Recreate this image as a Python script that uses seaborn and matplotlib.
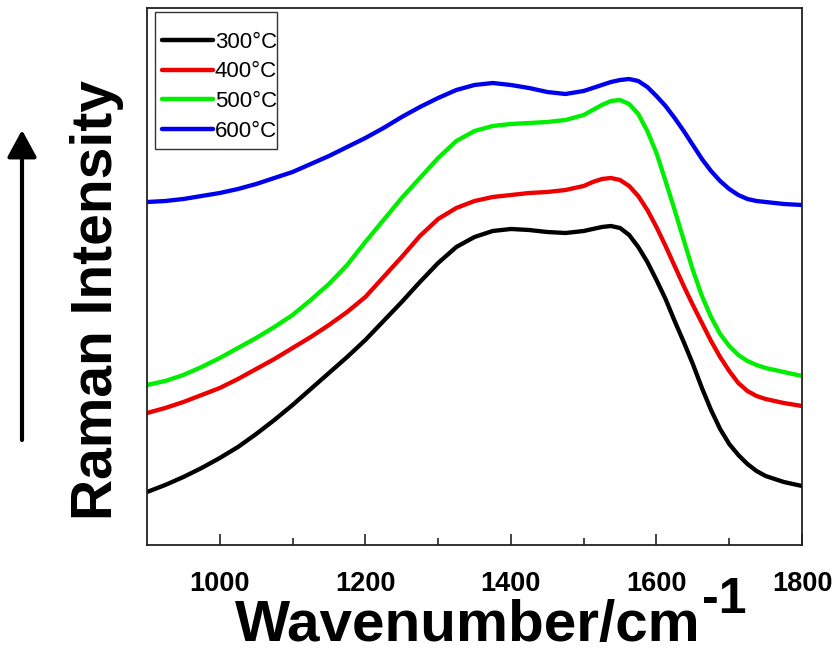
import numpy as np
import pandas as pd
import matplotlib
matplotlib.use("Agg")
import matplotlib.pyplot as plt
import matplotlib.patches as mpatches
from matplotlib.lines import Line2D
import seaborn as sns

# Wavenumber (cm^-1) and Raman intensities (arbitrary units)
wavenumber = [900, 925, 950, 975, 1000, 1025, 1050, 1075, 1100, 1125, 1150, 1175,
              1200, 1225, 1250, 1275, 1300, 1325, 1350, 1375, 1400, 1425, 1450, 1475,
              1500, 1512.5, 1525, 1537.5, 1550, 1562.5, 1575, 1587.5, 1600, 1612.5,
              1625, 1637.5, 1650, 1662.5, 1675, 1687.5, 1700, 1712.5, 1725, 1737.5,
              1750, 1775, 1800]

# values measured downward from the top of the frame, converted below
depth_300 = [492, 485, 477, 468, 458, 447, 434, 420, 405, 389, 373, 357,
             340, 321, 302, 282, 263, 247, 237, 231, 229, 230, 232, 233,
             231, 229, 227, 226, 228, 235, 247, 262, 280, 299,
             321, 342, 364, 388, 410, 429, 444, 455, 464, 471,
             476, 482, 486]
depth_400 = [413, 408, 402, 395, 388, 379, 369, 359, 348, 337, 325, 312,
             297, 277, 257, 236, 219, 208, 201, 197, 195, 193, 192, 190,
             186, 182, 179, 178, 180, 186, 196, 210, 227, 246,
             266, 286, 305, 323, 341, 357, 371, 383, 391, 396,
             399, 403, 406]
depth_500 = [385, 381, 375, 367, 358, 348, 338, 327, 315, 300, 284, 265,
             242, 220, 198, 178, 158, 141, 131, 126, 124, 123, 122, 120,
             115, 110, 105, 101, 100, 104, 114, 131, 153, 181,
             210, 240, 270, 296, 317, 334, 346, 355, 361, 365,
             368, 372, 376]
depth_600 = [202, 201, 199, 196, 193, 189, 184, 178, 172, 164, 156, 147,
             138, 128, 117, 107, 98, 90, 85, 83, 85, 88, 92, 94,
             91, 88, 85, 82, 80, 79, 81, 87, 96, 106,
             118, 131, 145, 159, 171, 181, 189, 195, 199, 201,
             202, 204, 205]

base = 545
int_300 = [base - v for v in depth_300]
int_400 = [base - v for v in depth_400]
int_500 = [base - v for v in depth_500]
int_600 = [base - v for v in depth_600]

labels = ["300°C", "400°C", "500°C", "600°C"]
colors = ["#000000", "#ee0000", "#00ee00", "#0000ee"]
xticks = [1000, 1200, 1400, 1600, 1800]
minor_xticks = [1100, 1300, 1500, 1700]

frames = []
for lab, vals in zip(labels, [int_300, int_400, int_500, int_600]):
    frames.append(pd.DataFrame({"Wavenumber": wavenumber, "Intensity": vals, "Temp": lab}))
df = pd.concat(frames, ignore_index=True)

sns.set_style("ticks")
plt.rcParams["font.family"] = ["Liberation Sans", "DejaVu Sans"]
plt.rcParams["text.color"] = "black"
plt.rcParams["xtick.color"] = "black"
plt.rcParams["xtick.labelcolor"] = "black"

W, H = 840, 659
fig = plt.figure(figsize=(W / 100, H / 100), dpi=100)
ax = fig.add_axes([147 / W, 1 - 545 / H, (802 - 147) / W, (545 - 8) / H])

sns.lineplot(data=df, x="Wavenumber", y="Intensity", hue="Temp",
             palette=dict(zip(labels, colors)), linewidth=3.1, ax=ax, legend=False,
             sort=False)
for ln in ax.get_lines():
    ln.set_solid_joinstyle("round")
    ln.set_solid_capstyle("round")

ax.set_xlim(900, 1800)
ax.set_ylim(0, 537)
ax.set_xticks(xticks)
ax.set_xticks(minor_xticks, minor=True)
ax.set_yticks([])
ax.tick_params(axis="x", which="major", direction="in", length=8, width=1.2,
               labelsize=19.5, pad=19, top=False, color="#222222", labelcolor="black")
ax.tick_params(axis="x", which="minor", direction="in", length=5, width=1.2, top=False,
               color="#222222")
for lab in ax.get_xticklabels():
    lab.set_fontweight("bold")
for s in ax.spines.values():
    s.set_visible(True)
    s.set_linewidth(1.3)
    s.set_color("#222222")
ax.set_xlabel("")
ax.set_ylabel("")

# Legend (entries) + separate frame
handles = [Line2D([0], [0], color=c, lw=3.2) for c in colors]
leg = ax.legend(handles, labels, loc="upper left",
                bbox_to_anchor=(0.012, (545 - 25) / 537),
                fontsize=16, frameon=False,
                handlelength=2.3, handletextpad=0.1, borderpad=0.3,
                labelspacing=0.39, borderaxespad=0)
for t in leg.get_texts():
    t.set_color("black")
fig.patches.append(mpatches.Rectangle((155 / W, 1 - 149 / H), (277 - 155) / W, (149 - 12) / H,
                                      transform=fig.transFigure, fill=False,
                                      edgecolor="#333333", linewidth=1.0))

# Axis labels
fig.text(468 / W, 1 - 626 / H, "Wavenumber/cm", ha="center", va="center",
         fontsize=42, fontweight="bold", color="black")
fig.text(724 / W, 1 - 600 / H, "-1", ha="center", va="center",
         fontsize=36, fontweight="bold", color="black")
fig.text(97 / W, 1 - 300 / H, "Raman Intensity", ha="center", va="center",
         rotation=90, fontsize=41, fontweight="bold", color="black")

# Arrow
fig.patches.append(mpatches.FancyArrowPatch(
    (22 / W, 1 - 440 / H), (22 / W, 1 - 130 / H), transform=fig.transFigure,
    arrowstyle="-|>,head_length=0.92,head_width=0.5", mutation_scale=18,
    shrinkA=0, shrinkB=0, linewidth=3, color="black"))

fig.savefig("out.png", dpi=100)
